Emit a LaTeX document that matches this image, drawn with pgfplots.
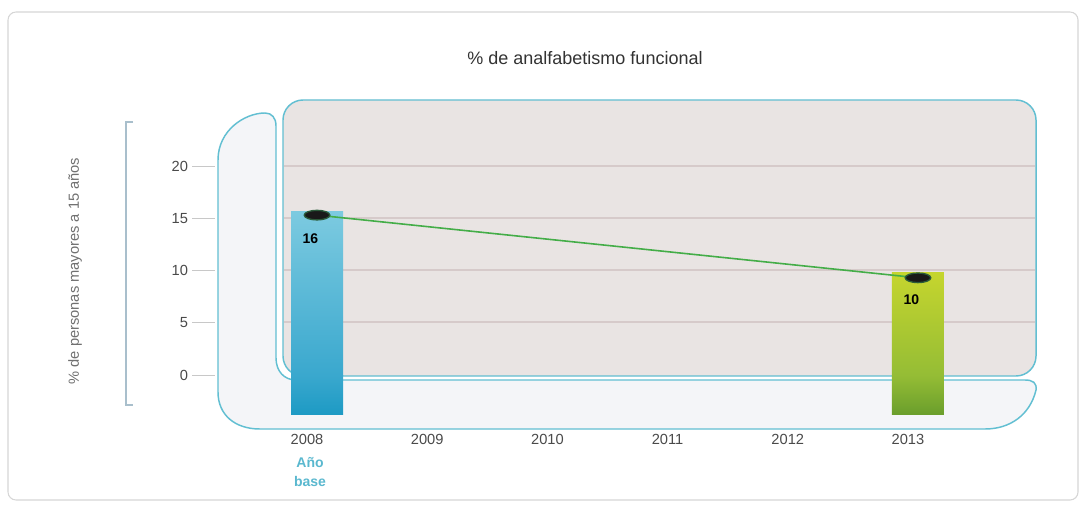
\documentclass[border=0pt]{standalone}
\usepackage{pgfplots}
\pgfplotsset{compat=1.18}
\usepackage{fontspec}
\setmainfont{Liberation Sans}
\definecolor{teal1}{HTML}{62BFD2}
\definecolor{framegray}{HTML}{D6D6D6}
\definecolor{wallfill}{HTML}{E9E4E3}
\definecolor{floorfill}{HTML}{F4F5F8}
\definecolor{gridc}{HTML}{D6CACA}
\definecolor{tickc}{HTML}{C8C8C8}
\definecolor{bracketc}{HTML}{A9BFCC}
\definecolor{titlec}{HTML}{333333}
\definecolor{labc}{HTML}{707070}
\definecolor{ticklab}{HTML}{4A4A4A}
\definecolor{basec}{HTML}{5AB8CF}
\definecolor{blueTop}{HTML}{7CCAE0}
\definecolor{blueMid}{HTML}{3AA8CE}
\definecolor{blueBot}{HTML}{1D9AC4}
\definecolor{greenTop}{HTML}{C5D52E}
\definecolor{greenMid}{HTML}{95BD35}
\definecolor{greenBot}{HTML}{6A9E2C}
\definecolor{linegreen}{HTML}{44AD48}
\definecolor{markring}{HTML}{2A5A3A}
\begin{document}
\begin{tikzpicture}
\useasboundingbox (0,0) rectangle (813pt,-379.5pt);
\begin{scope}[x=0.75pt,y=-0.75pt]
\draw[rounded corners=6pt, draw=framegray, line width=0.8pt, fill=white] (8,12) rectangle (1078,500);
% left wall + floor
\draw[teal1, line width=1.1pt, fill=floorfill] (218,392) -- (218,160) .. controls (218,130) and (245,113) .. (265,113) .. controls (272,113) and (276,118) .. (276,126) -- (276,358) .. controls (276,371) and (284,380) .. (296,380) -- (1025,380) .. controls (1033,380) and (1037,383) .. (1036,390) .. controls (1030,415) and (1010,429) .. (985,429) -- (260,429) .. controls (235,429) and (218,415) .. (218,392) -- cycle;
% back wall
\draw[teal1, line width=1.1pt, fill=wallfill, rounded corners=15pt] (283,100) rectangle (1036,376);
% gridlines
\foreach \yy in {166,218,270,322} \draw[gridc, line width=1pt] (284,\yy) -- (1035,\yy);
% y tick marks
\foreach \yy in {166,218,270,322,375} \draw[tickc, line width=0.6pt] (192,\yy) -- (215,\yy);
% bracket
\draw[bracketc, line width=0.8pt] (133,122) -- (126,122) -- (126,405) -- (133,405);
% title and labels
\node[font=\fontsize{13.5}{16}\selectfont, text=titlec] at (585,58) {\% de analfabetismo funcional};
\node[rotate=90, font=\fontsize{11}{13}\selectfont, text=labc] at (75,271) {\% de personas mayores a 15 años};
\node[font=\bfseries\fontsize{10.5}{12}\selectfont, text=basec] at (310,463) {Año};
\node[font=\bfseries\fontsize{10.5}{12}\selectfont, text=basec] at (310,481) {base};
\end{scope}
\begin{axis}[
  at={(163.5pt,-322.5pt)}, anchor=south west,
  scale only axis, width=613.5pt, height=247.5pt,
  xmin=2007.176, xmax=2013.982, ymin=-5.263, ymax=26.316,
  clip=false,
  axis lines=left, axis line style={draw=none,-},
  tick style={draw=none}, major tick length=0pt,
  xtick={2008,2009,2010,2011,2012,2013},
  xticklabels={2008,2009,2010,2011,2012,2013},
  ytick={0,5,10,15,20},
  /pgf/number format/assume math mode=true,
  xticklabel style={xshift=-7.5pt, font=\fontsize{11}{13}\selectfont, text=ticklab},
  yticklabel style={xshift=-19pt, font=\fontsize{11}{13}\selectfont, text=ticklab},
]
% lower extensions of the bars
\addplot[ybar, bar width=39pt, bar shift=0pt, draw=none, top color=blueMid, bottom color=blueBot] coordinates {(2008,-3.8)};
\addplot[ybar, bar width=39pt, bar shift=0pt, draw=none, top color=greenMid, bottom color=greenBot] coordinates {(2013,-3.8)};
% main bars
\addplot[ybar, bar width=39pt, bar shift=0pt, draw=none, top color=blueTop, bottom color=blueMid] coordinates {(2008,15.6)};
\addplot[ybar, bar width=39pt, bar shift=0pt, draw=none, top color=greenTop, bottom color=greenMid] coordinates {(2013,9.8)};
% trend line
\addplot[line width=1.2pt, color=linegreen, mark=*, mark size=4pt,
  mark options={xscale=2.4, yscale=0.9, fill=black!90, draw=markring, line width=1pt}]
  coordinates {(2008,15.3) (2013,9.3)};
% value labels
\addplot[only marks, mark=none, nodes near coords, point meta=y,
  nodes near coords style={anchor=north, yshift=-13pt, xshift=-5pt, text=black,
    font=\bfseries\fontsize{10.5}{12}\selectfont,
    /pgf/number format/fixed, /pgf/number format/precision=0}]
  coordinates {(2008,15.6) (2013,9.8)};
\end{axis}
\end{tikzpicture}
\end{document}
